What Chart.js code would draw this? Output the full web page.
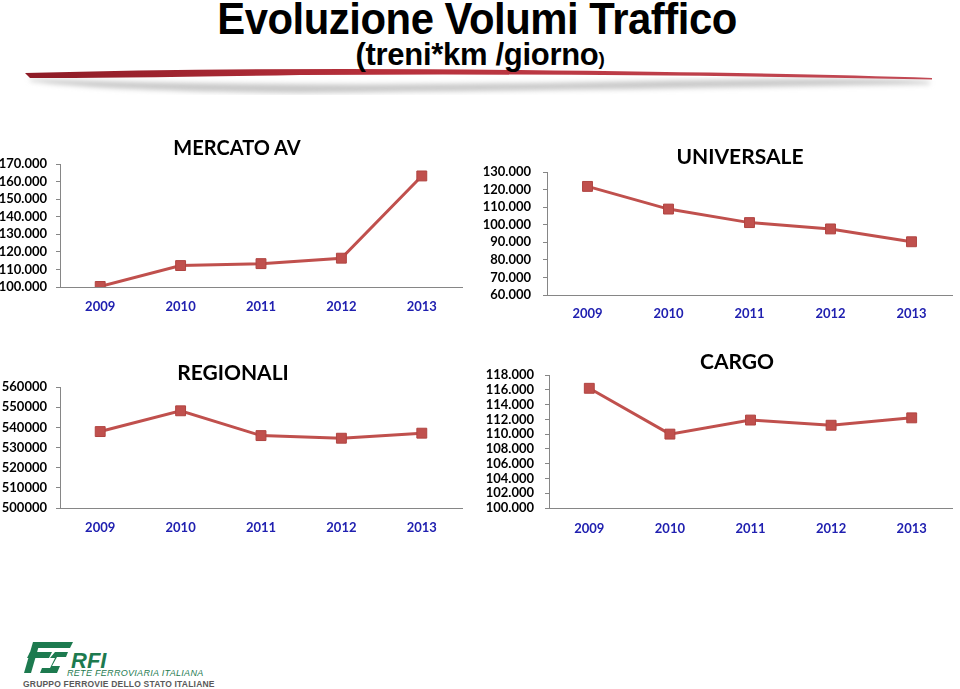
<!DOCTYPE html>
<html>
<head>
<meta charset="utf-8">
<script src="https://cdn.jsdelivr.net/npm/chart.js@4.4.1/dist/chart.umd.min.js"></script>
<style>
  body { margin: 0; width: 960px; height: 689px; background: #fff; position: relative; overflow: hidden; font-family: Lato, sans-serif; }
  .box { position: absolute; }
  .ttl { position: absolute; transform: translate(-50%, -50%); font: bold 21px Lato, sans-serif; color: #000; white-space: nowrap; }
  #mainTitle { position: absolute; left: 477px; top: 19px; transform: translate(-50%, -50%) scaleX(0.93); font: bold 45px "Liberation Sans", Arial, sans-serif; white-space: nowrap; letter-spacing: -0.5px; z-index: 2; }
  #subTitle { position: absolute; left: 480px; top: 55px; transform: translate(-50%, -50%); font: bold 31px "Liberation Sans", Arial, sans-serif; white-space: nowrap; z-index: 2; letter-spacing: -0.3px; }
  #subTitle small { font-size: 19px; }
  .rfi { position: absolute; left: 71px; top: 648px; font: italic bold 22px "Liberation Sans", Arial, sans-serif; color: #1d7a4f; }
  .rete { position: absolute; left: 67px; top: 668px; font: italic 9px "Liberation Sans", Arial, sans-serif; color: #1d7a4f; letter-spacing: 0.3px; }
  .gruppo { position: absolute; left: 23px; top: 679px; font: bold 8.5px "Liberation Sans", Arial, sans-serif; color: #5a5a5a; letter-spacing: 0.2px; white-space: nowrap; }
</style>
</head>
<body>
<svg class="box" style="left:0;top:0" width="960" height="100">
  <defs>
    <linearGradient id="sw" x1="0" x2="1" y1="0" y2="0">
      <stop offset="0" stop-color="#8e1b26"/>
      <stop offset="0.4" stop-color="#b8313c"/>
      <stop offset="1" stop-color="#c24a55"/>
    </linearGradient>
    <filter id="bl"><feGaussianBlur stdDeviation="2.5"/></filter>
  </defs>
  <path d="M30,79 Q300,88 600,82 T930,82 L930,84 Q600,90 300,93 Q100,91 30,81 Z" fill="#c8c8c8" filter="url(#bl)"/>
  <path d="M25,73 Q250,67 520,70 T932,78 L932,79.5 Q600,73 300,75 Q120,78 30,78 Z" fill="url(#sw)"/>
</svg>
<div id="mainTitle">Evoluzione Volumi Traffico</div>
<div id="subTitle">(treni*km /giorno<small>)</small></div>

<div class="box" style="left:0;top:130px;width:470px;height:200px"><canvas id="c1"></canvas></div>
<div class="box" style="left:470px;top:130px;width:490px;height:200px"><canvas id="c2"></canvas></div>
<div class="box" style="left:0;top:340px;width:470px;height:210px"><canvas id="c3"></canvas></div>
<div class="box" style="left:470px;top:340px;width:490px;height:210px"><canvas id="c4"></canvas></div>

<div class="ttl" style="left:237px;top:147px;font-size:20px">MERCATO AV</div>
<div class="ttl" style="left:740px;top:155px">UNIVERSALE</div>
<div class="ttl" style="left:233px;top:371px">REGIONALI</div>
<div class="ttl" style="left:737px;top:360px">CARGO</div>

<svg class="box" style="left:0;top:630px" width="80" height="50">
  <polygon points="36,12 73,12 70,18 33,18" fill="#1d7a4f"/>
  <polygon points="30,22 52,22 49,28 27,28" fill="#1d7a4f"/>
  <polygon points="33,12 40,12 31,43 24,43" fill="#1d7a4f"/>
  <polygon points="55,22 68,22 66,27 57,27 52,36 60,36 57,43 40,43 42,38 50,38 55,28 50,28" fill="#1d7a4f"/>
</svg>
<div class="rfi">RFI</div>
<div class="rete">RETE FERROVIARIA ITALIANA</div>
<div class="gruppo">GRUPPO FERROVIE DELLO STATO ITALIANE</div>

<script>
// dati (treni*km/giorno)
const years = ['2009', '2010', '2011', '2012', '2013'];
const mercatoAv = [100300, 112200, 113300, 116400, 163200];
const universale = [121800, 108900, 101200, 97600, 90300];
const regionali = [537900, 548200, 535900, 534600, 537100];
const cargo = [116200, 110000, 111900, 111200, 112200];

// min, max, passo dell'asse y
const mercatoAvAxis = [100000, 170000, 10000];
const universaleAxis = [60000, 130000, 10000];
const regionaliAxis = [500000, 560000, 10000];
const cargoAxis = [100000, 118000, 2000];

const RED = '#c0504d';
const AXIS = '#868686';

const dotted = v => String(v).replace(/\B(?=(\d{3})+(?!\d))/g, '.');
const plain = v => String(v);

const makeChart = (id, values, axis, fmt, area) => {
  new Chart(document.getElementById(id), {
    type: 'line',
    data: {
      labels: years,
      datasets: [{
        data: values,
        borderColor: RED,
        borderWidth: 3,
        backgroundColor: RED,
        pointStyle: 'rect',
        pointRadius: 7,
        pointBorderColor: '#b04441',
        pointBorderWidth: 1,
        pointBackgroundColor: RED,
        tension: 0,
        fill: false
      }]
    },
    options: {
      responsive: true,
      maintainAspectRatio: false,
      animation: false,
      layout: { padding: { left: 0, right: area.right, top: area.top, bottom: 0 } },
      plugins: { legend: { display: false }, tooltip: { enabled: false } },
      scales: {
        x: {
          offset: true,
          grid: { display: false, drawTicks: false },
          border: { display: true, color: AXIS, width: 1 },
          ticks: { color: '#2020b0', padding: area.xPad, font: { family: 'Lato', weight: 'bold', size: 13 } },
          afterFit: s => { s.height = area.xH; }
        },
        y: {
          min: axis[0],
          max: axis[1],
          grid: { display: true, drawOnChartArea: false, drawTicks: true, tickLength: 4, color: AXIS },
          border: { display: true, color: AXIS, width: 1 },
          ticks: { stepSize: axis[2], autoSkip: false, color: '#000', padding: area.yPad, font: { family: 'Lato', weight: 'bold', size: 13 }, callback: fmt },
          afterFit: s => { s.width = area.left; }
        }
      }
    }
  });
};

makeChart('c1', mercatoAv, mercatoAvAxis, dotted, { left: 60, right: 3, top: 34, xH: 43, xPad: 12, yPad: 9 });
makeChart('c2', universale, universaleAxis, dotted, { left: 77, right: 7, top: 42, xH: 35, xPad: 11, yPad: 12 });
makeChart('c3', regionali, regionaliAxis, plain, { left: 60, right: 3, top: 47, xH: 42, xPad: 12, yPad: 9 });
makeChart('c4', cargo, cargoAxis, dotted, { left: 79, right: 2, top: 35, xH: 42, xPad: 13, yPad: 11 });
</script>
</body>
</html>
